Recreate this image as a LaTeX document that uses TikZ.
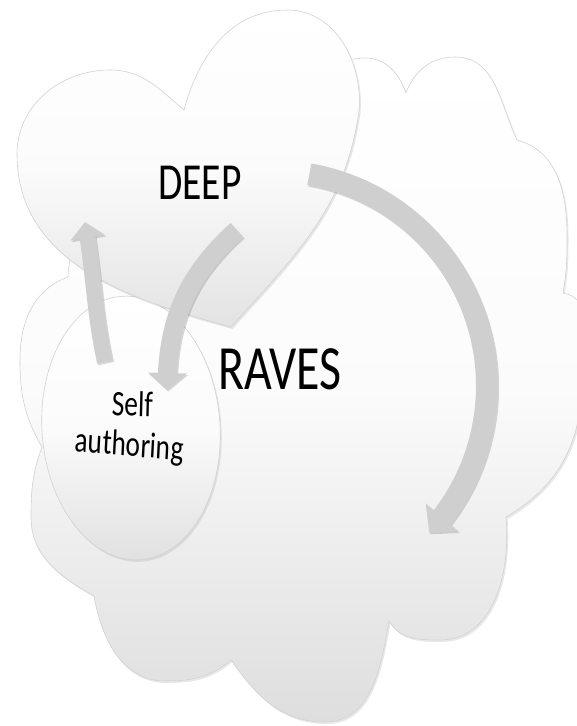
\documentclass[tikz,border=0pt]{standalone}
\usepackage{fontspec}
\setmainfont{Carlito}
\usetikzlibrary{arrows.meta,bending,shadows}

\begin{document}
\begin{tikzpicture}[
    x=1pt, y=1pt,
    outline/.style={draw=gray!35, line width=0.6pt, drop shadow={opacity=0.18, shadow xshift=1.5pt, shadow yshift=-2pt}},
    word/.style={font=\fontsize{#1}{#1}\selectfont, xscale=0.76, inner sep=0pt},
    arrow/.style={draw=gray!38, line width=#1},
    shadowed/.style={draw=black, opacity=0.15, transform canvas={shift={(1.2pt,-1.6pt)}}}
  ]
    \useasboundingbox (0,0) rectangle (576,726);
    \fill[white] (0,0) rectangle (576,726);

    % cloud
    \path[outline, top color=white, bottom color=gray!26, middle color=gray!3]
      (300,610) to[out=80,in=180] (365,668) to[out=0,in=110] (406,633)
      to[out=70,in=180] (455,669) to[out=0,in=115] (517,586)
      to[out=-15,in=90] (567,490) to[out=-90,in=80] (563,433)
      to[out=-10,in=90] (582,346) to[out=-90,in=30] (506,209)
      to[out=-85,in=0] (440,86) to[out=180,in=-60] (389,105)
      to[out=-100,in=0] (325,4) to[out=180,in=-55] (231,66)
      to[out=-140,in=0] (165,45) to[out=180,in=-80] (94,130)
      to[out=150,in=-90] (31,209) to[out=90,in=-110] (42,279)
      to[out=120,in=-90] (20,366) to[out=90,in=200] (68,449)
      to[out=88,in=225] (300,610) -- cycle;

    % ellipse
    \path[outline, top color=white, bottom color=gray!24, middle color=gray!3, rotate around={4:(131,298)}]
      (131,298) ellipse[x radius=89, y radius=132];

    % heart
    \path[outline, top color=white, bottom color=gray!22, middle color=gray!3]
      (184,616) to[out=140,in=0] (110,656) to[out=180,in=90] (17,572)
      to[out=-90,in=165] (231,399) to[out=48,in=-98] (359,615)
      to[out=85,in=0] (287,716) to[out=180,in=75] (184,616) -- cycle;

    \node[word=52, anchor=base] (deep) at (200,526) {DEEP};
    \node[word=63, anchor=base] (raves) at (280,336) {RAVES};
    \node[word=36, anchor=base, rotate=-2] (self) at (132,310) {Self};
    \node[word=36, anchor=base, rotate=-4] (authoring) at (129,270) {authoring};

    \coordinate (bigtail) at (309.3,551.7);
    \coordinate (midtail) at (237,496);
    \coordinate (midtip) at (167,336);
    \coordinate (lefttail) at (105,364);
    \coordinate (lefttip) at (85,504);

    \draw[shadowed, line width=22pt, -{Triangle[width=42pt,length=20pt]}] (bigtail) arc[start angle=80, end angle=-43, radius=215];
    \draw[arrow=22pt, -{Triangle[width=42pt,length=20pt]}] (bigtail) arc[start angle=80, end angle=-43, radius=215];
    \draw[shadowed, line width=19pt, -{Triangle[width=38pt,length=17pt]}] (midtail) to[out=222,in=90] (midtip);
    \draw[arrow=19pt, -{Triangle[width=38pt,length=17pt]}] (midtail) to[out=222,in=90] (midtip);
    \draw[shadowed, line width=16pt, -{Triangle[width=34pt,length=16pt]}] (lefttail) to[out=102,in=-80] (lefttip);
    \draw[arrow=16pt, -{Triangle[width=34pt,length=16pt]}] (lefttail) to[out=102,in=-80] (lefttip);
  \end{tikzpicture}
\end{document}
